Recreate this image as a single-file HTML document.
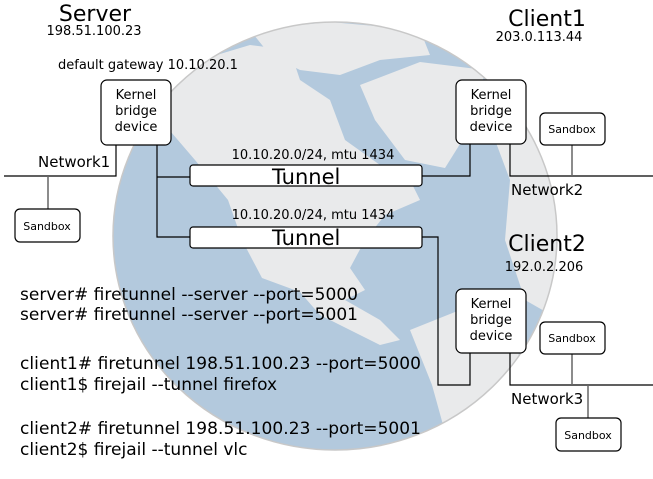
<!DOCTYPE html>
<html><head><meta charset="utf-8"><style>
html,body{margin:0;padding:0;background:#fff;}
svg{display:block;font-family:"DejaVu Sans","Liberation Sans",sans-serif;}
</style></head><body>
<svg width="653" height="479" viewBox="0 0 653 479" xmlns="http://www.w3.org/2000/svg">
<defs>
<clipPath id="c"><ellipse cx="335" cy="236" rx="222" ry="214"/></clipPath>
</defs>
<ellipse cx="335" cy="236" rx="222" ry="214" fill="#b3c9dd"/>
<g clip-path="url(#c)" fill="#e9eaeb">
<path d="M165 95 L200 60 L250 45 L290 50 L300 80 L330 100 L345 140 L380 165 L410 180 L420 200 L385 215 L365 240 L350 268 L365 290 L345 300 L300 292 L262 278 L242 240 L228 200 L195 160 L165 125 Z"/>
<path d="M250 30 L330 22 L420 30 L430 55 L380 60 L340 75 L300 70 L270 55 Z"/>
<path d="M360 85 L420 62 L485 70 L475 120 L445 168 L405 160 L375 120 Z"/>
<path d="M480 40 L560 40 L560 320 L525 300 L505 240 L510 180 L495 140 L500 100 Z"/>
<path d="M300 292 L345 300 L380 320 L400 340 L380 345 L350 330 L320 315 Z"/>
<path d="M410 330 L460 310 L520 345 L512 400 L475 440 L445 432 L432 385 Z"/>
</g>
<ellipse cx="335" cy="236" rx="222" ry="214" fill="none" stroke="#c8c8c8" stroke-width="1.5"/>
<g fill="#000">
<text x="95" y="21" font-size="22" text-anchor="middle">Server</text>
<text x="94" y="35" font-size="13" text-anchor="middle">198.51.100.23</text>
<text x="58" y="69" font-size="13">default gateway 10.10.20.1</text>
<text x="547" y="26" font-size="22" text-anchor="middle">Client1</text>
<text x="539" y="41" font-size="13" text-anchor="middle">203.0.113.44</text>
<text x="547" y="251" font-size="22" text-anchor="middle">Client2</text>
<text x="544" y="271" font-size="13" text-anchor="middle">192.0.2.206</text>
<text x="38" y="167" font-size="15">Network1</text>
<text x="511" y="195" font-size="15">Network2</text>
<text x="511" y="404" font-size="15">Network3</text>
<text x="313" y="159" font-size="13" text-anchor="middle">10.10.20.0/24, mtu 1434</text>
<text x="313" y="219" font-size="13" text-anchor="middle">10.10.20.0/24, mtu 1434</text>
</g>
<g fill="none" stroke="#000" stroke-width="1.2">
<path d="M4 176 H116 V145"/>
<path d="M157 145 V237 H190 M157 177 H190"/>
<path d="M422 176 H470 V144"/>
<path d="M510 144 V176 H653"/>
<path d="M422 237 H438 V385 H470 V353"/>
<path d="M510 353 V385 H653"/>
</g>
<g fill="none" stroke="#666" stroke-width="1.5">
<path d="M48 176 V209"/>
<path d="M572 145 V176"/>
<path d="M572 354 V385"/>
<path d="M588 385 V418"/>
</g>
<g fill="#fff" stroke="#000" stroke-width="1.2">
<rect x="101" y="80" width="70" height="65" rx="6"/>
<rect x="456" y="80" width="70" height="64" rx="6"/>
<rect x="456" y="289" width="70" height="64" rx="6"/>
<rect x="190" y="165" width="232" height="21" rx="3"/>
<rect x="190" y="227" width="232" height="21" rx="3"/>
<rect x="15" y="209" width="65" height="33" rx="5"/>
<rect x="540" y="113" width="65" height="32" rx="5"/>
<rect x="540" y="322" width="65" height="32" rx="5"/>
<rect x="556" y="418" width="65" height="33" rx="5"/>
</g>
<g fill="#000" font-size="13" text-anchor="middle">
<text x="136" y="99">Kernel</text><text x="136" y="115">bridge</text><text x="136" y="131">device</text>
<text x="491" y="99">Kernel</text><text x="491" y="115">bridge</text><text x="491" y="131">device</text>
<text x="491" y="308">Kernel</text><text x="491" y="324">bridge</text><text x="491" y="340">device</text>
<text x="47" y="230" font-size="11">Sandbox</text>
<text x="572" y="133" font-size="11">Sandbox</text>
<text x="572" y="342" font-size="11">Sandbox</text>
<text x="588" y="439" font-size="11">Sandbox</text>
</g>
<g fill="#000" font-size="21">
<text x="272" y="184">Tunnel</text>
<text x="272" y="245">Tunnel</text>
</g>
<g fill="#000" font-size="17">
<text x="20" y="300" textLength="338">server# firetunnel --server --port=5000</text>
<text x="20" y="320" textLength="338">server# firetunnel --server --port=5001</text>
<text x="20" y="369" textLength="401">client1# firetunnel 198.51.100.23 --port=5000</text>
<text x="20" y="390">client1$ firejail --tunnel firefox</text>
<text x="20" y="434" textLength="401">client2# firetunnel 198.51.100.23 --port=5001</text>
<text x="20" y="455">client2$ firejail --tunnel vlc</text>
</g>
</svg>
</body></html>
